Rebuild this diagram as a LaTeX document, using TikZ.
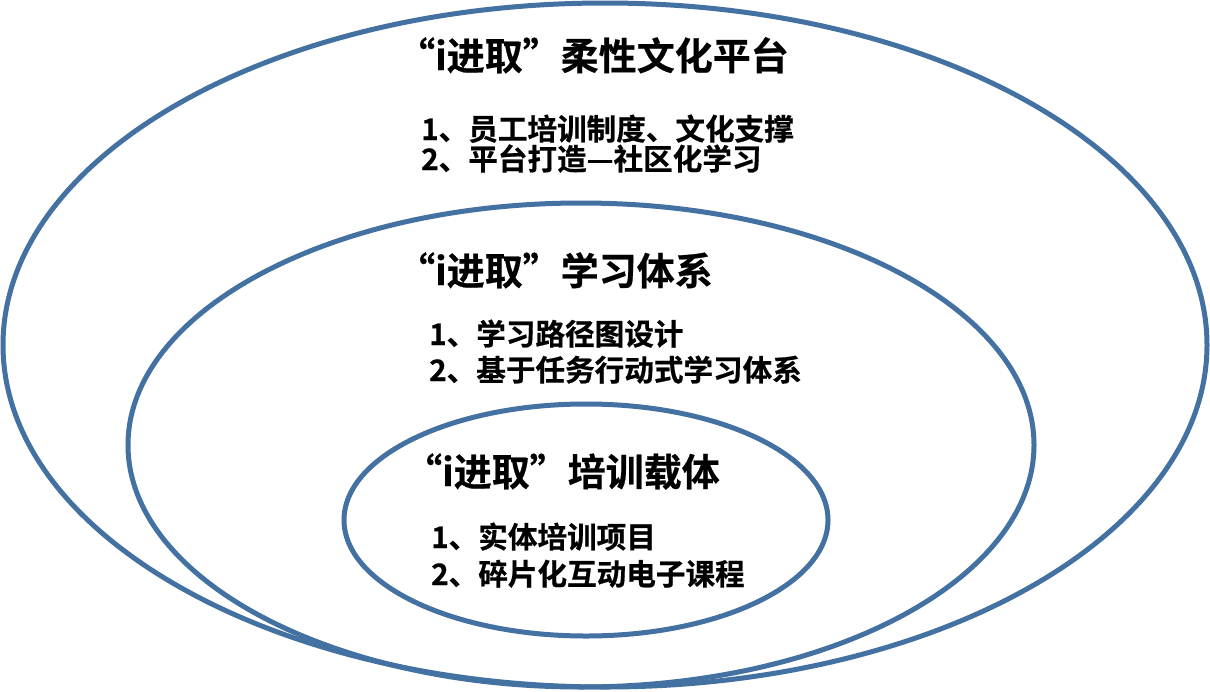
\documentclass[tikz,border=0pt]{standalone}
\usepackage{fontspec}
\newfontfamily\cjk{Noto Sans CJK SC}[BoldFont={Noto Sans CJK SC Bold},BoldFeatures={FakeBold=0.6}]
\definecolor{ringblue}{RGB}{67,113,161}
\begin{document}
\begin{tikzpicture}[x=1pt,y=-1pt,
  ring/.style={draw=ringblue,line width=5pt},
  titletext/.style={anchor=base west,inner sep=0pt,font=\cjk\bfseries\fontsize{38}{38}\selectfont},
  itemtext/.style={anchor=base west,inner sep=0pt,font=\cjk\bfseries\fontsize{29.6}{29.6}\selectfont}]
\useasboundingbox[fill=white] (0,0) rectangle (1210,691);
% rings
\draw[ring] (605,345) ellipse [x radius=602pt, y radius=342pt];
\draw[ring] (581,445) ellipse [x radius=453pt, y radius=242pt];
\draw[ring] (586,520) ellipse [x radius=242pt, y radius=116pt];
% outer ring texts
\node[titletext] (t1) at (397,70) {“i进取”柔性文化平台};
\node[itemtext] (t1a) at (421,140) {1、员工培训制度、文化支撑};
\node[itemtext] (t1b) at (421,170) {2、平台打造—社区化学习};
% middle ring texts
\node[titletext] (t2) at (397,285) {“i进取”学习体系};
\node[itemtext] (t2a) at (429,345) {1、学习路径图设计};
\node[itemtext] (t2b) at (429,381) {2、基于任务行动式学习体系};
% inner ring texts
\node[titletext] (t3) at (404,486) {“i进取”培训载体};
\node[itemtext] (t3a) at (431,548) {1、实体培训项目};
\node[itemtext] (t3b) at (431,585) {2、碎片化互动电子课程};
\end{tikzpicture}
\end{document}
